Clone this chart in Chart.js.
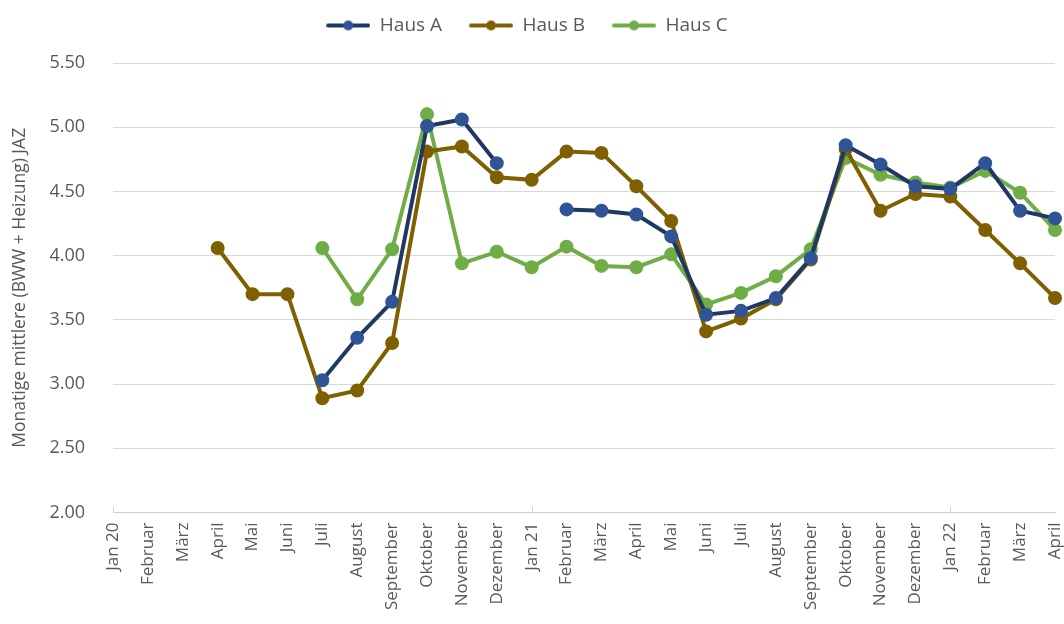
<!DOCTYPE html>
<html>
<head>
<meta charset="utf-8">
<script src="https://cdn.jsdelivr.net/npm/chart.js@4.4.0/dist/chart.umd.min.js"></script>
<style>
html,body{margin:0;padding:0;background:#fff;}
#wrap{width:1064px;height:624px;position:relative;}
</style>
</head>
<body>
<div id="wrap"><canvas id="c" width="1064" height="624"></canvas></div>
<script>
const categories = ["Jan 20","Februar","März","April","Mai","Juni","Juli","August","September","Oktober","November","Dezember",
  "Jan 21","Februar","März","April","Mai","Juni","Juli","August","September","Oktober","November","Dezember",
  "Jan 22","Februar","März","April"];
const hausA = [null,null,null,null,null,null,3.03,3.36,3.64,5.01,5.06,4.72,
  null,4.36,4.35,4.32,4.15,3.54,3.57,3.67,3.98,4.86,4.71,4.54,
  4.52,4.72,4.35,4.29];
const hausB = [null,null,null,4.06,3.70,3.70,2.89,2.95,3.32,4.81,4.85,4.61,
  4.59,4.81,4.80,4.54,4.27,3.41,3.51,3.66,3.97,4.83,4.35,4.48,
  4.46,4.20,3.94,3.67];
const hausC = [null,null,null,null,null,null,4.06,3.66,4.05,5.10,3.94,4.03,
  3.91,4.07,3.92,3.91,4.01,3.62,3.71,3.84,4.05,4.76,4.63,4.57,
  4.53,4.66,4.49,4.20];
const yTicks = [2.0,2.5,3.0,3.5,4.0,4.5,5.0,5.5];

const FONT = "'Open Sans', sans-serif";
const GRAY = '#595959';

function legendIcon(lineColor, dotColor){
  const cv = document.createElement('canvas');
  cv.width = 44; cv.height = 12;
  const g = cv.getContext('2d');
  g.strokeStyle = lineColor; g.lineWidth = 4; g.lineCap = 'round';
  g.beginPath(); g.moveTo(2,6); g.lineTo(42,6); g.stroke();
  g.fillStyle = dotColor;
  g.beginPath(); g.arc(22,6,5,0,Math.PI*2); g.fill();
  return cv;
}

const yearTicks = {
  id:'yearTicks',
  afterDraw(chart){
    const x = chart.scales.x, ctx = chart.ctx;
    const bottom = chart.chartArea.bottom;
    ctx.save();
    ctx.strokeStyle = '#d0d0d0'; ctx.lineWidth = 1;
    [0,12,24].forEach(i=>{
      const px = Math.round(x.getPixelForValue(i))+0.5;
      ctx.beginPath(); ctx.moveTo(px,bottom); ctx.lineTo(px,bottom-6); ctx.stroke();
    });
    ctx.restore();
  }
};

const legendMargin = {
  id:'legendMargin',
  beforeInit(chart){
    const lg = chart.legend;
    const fit = lg.fit;
    lg.fit = function(){ fit.bind(lg)(); this.height = 74; };
    const draw = lg.draw;
    lg.draw = function(){
      const ctx = chart.ctx;
      ctx.save(); ctx.translate(-7, 0); draw.bind(lg)(); ctx.restore();
    };
  }
};

const mk = (label, data, line, dot) => ({
  label, data,
  borderColor: line, backgroundColor: dot,
  pointBackgroundColor: dot, pointBorderColor: dot,
  borderWidth: 4, pointRadius: 5, pointHoverRadius: 5,
  pointStyle: 'circle',
  tension: 0, spanGaps: false, fill: false
});

const chart = new Chart(document.getElementById('c'), {
  type: 'line',
  data: {
    labels: categories,
    datasets: [
      mk('Haus A', hausA, '#1F3864', '#2F5597'),
      mk('Haus B', hausB, '#7F6000', '#7F6000'),
      mk('Haus C', hausC, '#70AD47', '#70AD47')
    ]
  },
  options: {
    responsive: false,
    animation: false,
    devicePixelRatio: 1,
    layout: { padding: { left: 10, right: 6, top: -11, bottom: 4 } },
    plugins: {
      tooltip: { enabled: false },
      legend: {
        position: 'top',
        labels: {
          usePointStyle: true,
          pointStyleWidth: 44,
          color: GRAY,
          font: { family: FONT, size: 19 },
          padding: 27,
          generateLabels(chart){
            return chart.data.datasets.map((ds,i)=>({
              text: ds.label,
              pointStyle: legendIcon(ds.borderColor, ds.pointBackgroundColor),
              fillStyle: ds.borderColor, strokeStyle: ds.borderColor,
              lineWidth: 0, hidden: false, datasetIndex: i, fontColor: GRAY
            }));
          }
        }
      }
    },
    scales: {
      x: {
        offset: false,
        afterFit(scale){ scale.paddingLeft = 0; scale.paddingRight = 4; },
        grid: { display: false, drawTicks: false },
        border: { display: true, color: '#d0d0d0', width: 1 },
        ticks: {
          color: GRAY, font: { family: FONT, size: 17 },
          maxRotation: 90, minRotation: 90, autoSkip: false, padding: 10
        }
      },
      y: {
        min: 2, max: 5.5,
        afterBuildTicks(scale){ scale.ticks = yTicks.map(v=>({value:v})); },
        afterFit(scale){ scale.width = 103; },
        grid: { color: '#d9d9d9', lineWidth: 1, drawTicks: false },
        border: { display: false },
        ticks: {
          color: GRAY, font: { family: FONT, size: 18 }, padding: 28,
          callback: v => Number(v).toFixed(2)
        },
        title: {
          display: true, text: 'Monatige mittlere (BWW + Heizung) JAZ',
          color: GRAY, font: { family: FONT, size: 17.5 }, padding: { top: 0, bottom: 0 }
        }
      }
    }
  },
  plugins: [yearTicks, legendMargin]
});
</script>
</body>
</html>
